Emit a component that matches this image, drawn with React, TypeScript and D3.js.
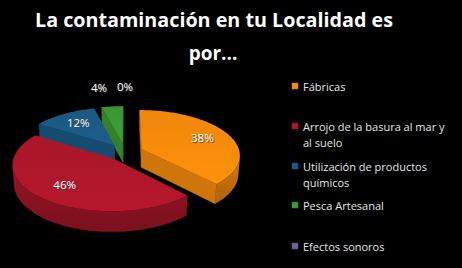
import React from "react";
import * as d3 from "d3";

const categories = [
  "Fábricas",
  "Arrojo de la basura al mar y al suelo",
  "Utilización  de productos químicos",
  "Pesca Artesanal",
  "Efectos sonoros",
];
const legendLines = [
  ["Fábricas"],
  ["Arrojo de la basura al mar y", "al suelo"],
  ["Utilización  de productos", "químicos"],
  ["Pesca Artesanal"],
  ["Efectos sonoros"],
];
const values = [38, 46, 12, 4, 0];
const percentLabels = ["38%", "46%", "12%", "4%", "0%"];
const colors = ["#F98C0B", "#B0172B", "#1C5B87", "#3E9A35", "#7B5E9E"];
const titleLines = ["La contaminación en tu Localidad es", "por..."];

const W = 462;
const H = 268;

export default function App() {
  const cx = 125;
  const cy = 152;
  const R = 98;
  const alpha = (27 * Math.PI) / 180;
  const sinA = Math.sin(alpha);
  const cosA = Math.cos(alpha);
  const D = 700;
  const depth = 21;
  const E = 18;

  const P = (theta: number, r: number, h: number, phi: number): [number, number] => {
    const X = r * Math.sin(theta) + E * Math.sin(phi);
    const Z = r * Math.cos(theta) + E * Math.cos(phi);
    const dv = h * sinA + Z * cosA;
    const s = D / (D + dv);
    return [cx + X * s, cy + (h * cosA - Z * sinA) * s];
  };
  const cam = [0, D * sinA, -D * cosA];
  const visible = (n: number[], p: number[]) =>
    n[0] * (cam[0] - p[0]) + n[1] * (cam[1] - p[1]) + n[2] * (cam[2] - p[2]) > 0;

  const pie = d3
    .pie<number>()
    .sort(null)
    .value((d) => d)
    .startAngle(0)
    .endAngle(2 * Math.PI);
  const arcs = pie(values);
  const line = d3.line();
  const poly = (pts: [number, number][]) => line(pts) + "Z";

  const step = Math.PI / 180;

  const slices = arcs
    .map((a, i) => {
      const phi = (a.startAngle + a.endAngle) / 2;
      const zc = (R / 2) * Math.cos(phi) + E * Math.cos(phi);
      return { a, i, phi, zc };
    })
    .filter((s) => s.a.endAngle - s.a.startAngle > 1e-6)
    .sort((p, q) => q.zc - p.zc);

  const base = (c: string) => d3.color(c)!;

  const elements: React.ReactNode[] = [];
  slices.forEach(({ a, i, phi }) => {
    const s0 = a.startAngle;
    const s1 = a.endAngle;
    const col = colors[i];
    const sideCol = base(col).darker(0.7).formatHex();
    const cutCol = base(col).darker(0.5).formatHex();
    const Ox = E * Math.sin(phi);
    const Oz = E * Math.cos(phi);
    const faces: { th: number; n: number[] }[] = [
      { th: s0, n: [-Math.cos(s0), 0, Math.sin(s0)] },
      { th: s1, n: [Math.cos(s1), 0, -Math.sin(s1)] },
    ];
    faces.forEach((f, k) => {
      const p = [Ox + (R / 2) * Math.sin(f.th), -depth / 2, Oz + (R / 2) * Math.cos(f.th)];
      if (visible(f.n, p)) {
        elements.push(
          <path
            key={`cut-${i}-${k}`}
            d={poly([P(f.th, 0, 0, phi), P(f.th, R, 0, phi), P(f.th, R, depth, phi), P(f.th, 0, depth, phi)])}
            fill={cutCol}
            stroke={cutCol}
            strokeWidth={0.5}
          />
        );
      }
    });
    const n = Math.max(2, Math.ceil((s1 - s0) / step));
    let run: number[] = [];
    const runs: number[][] = [];
    for (let k = 0; k < n; k++) {
      const t0 = s0 + ((s1 - s0) * k) / n;
      const t1 = s0 + ((s1 - s0) * (k + 1)) / n;
      const tm = (t0 + t1) / 2;
      const nrm = [Math.sin(tm), 0, Math.cos(tm)];
      const p = [Ox + R * Math.sin(tm), -depth / 2, Oz + R * Math.cos(tm)];
      if (visible(nrm, p)) {
        if (run.length === 0) run.push(t0);
        run.push(t1);
      } else if (run.length) {
        runs.push(run);
        run = [];
      }
    }
    if (run.length) runs.push(run);
    runs.forEach((rn, k) => {
      const top = rn.map((t) => P(t, R, 0, phi));
      const bot = rn.map((t) => P(t, R, depth, phi)).reverse();
      elements.push(
        <path
          key={`wall-${i}-${k}`}
          d={poly([...top, ...bot])}
          fill={`url(#wall${i})`}
          stroke={sideCol}
          strokeWidth={0.3}
        />
      );
    });
    const tops: [number, number][] = [P(0, 0, 0, phi)];
    for (let k = 0; k <= n; k++) tops.push(P(s0 + ((s1 - s0) * k) / n, R, 0, phi));
    elements.push(<path key={`top-${i}`} d={poly(tops)} fill={`url(#top${i})`} />);
  });

  const labelEls = arcs.map((a, i) => {
    const phi = (a.startAngle + a.endAngle) / 2;
    const inside = values[i] >= 5;
    const rr = inside ? 0.7 * R : 1.6 * R;
    const [x, y] = P(phi, rr, 0, phi);
    let anchor = "middle";
    if (!inside && x < cx - 5) anchor = "end";
    return (
      <text
        key={`lbl-${i}`}
        x={x}
        y={y + 4}
        textAnchor={anchor}
        fontFamily="Open Sans, sans-serif"
        fontSize={11.5}
        fill="#FFFFFF"
        style={{ textShadow: "1px 1px 1px #444" }}
      >
        {percentLabels[i]}
      </text>
    );
  });

  const legendY = [87, 127, 167, 206, 247];

  return (
    <div style={{ position: "absolute", left: 0, top: 0 }}>
      <svg width={W} height={H} style={{ display: "block" }}>
        <defs>
          {colors.map((c, i) => (
            <linearGradient key={`w${i}`} id={`wall${i}`} x1="0" y1="0" x2="0" y2="1">
              <stop offset="0" stopColor={base(c).darker(0.45).formatHex()} />
              <stop offset="1" stopColor={base(c).darker(1.0).formatHex()} />
            </linearGradient>
          ))}
          {colors.map((c, i) => (
            <linearGradient key={`t${i}`} id={`top${i}`} x1="0" y1="0" x2="0" y2="1">
              <stop offset="0" stopColor={base(c).darker(0.1).formatHex()} />
              <stop offset="1" stopColor={base(c).brighter(0.1).formatHex()} />
            </linearGradient>
          ))}
        </defs>
        <rect x={0} y={0} width={W} height={H} fill="#000" />
        <text x={214} y={27} textAnchor="middle" fontFamily="Open Sans, sans-serif" fontWeight="bold" fontSize={19} fill="#FFFFFF" textLength={358} lengthAdjust="spacingAndGlyphs">
          {titleLines[0]}
        </text>
        <text x={213} y={60} textAnchor="middle" fontFamily="Open Sans, sans-serif" fontWeight="bold" fontSize={19} fill="#FFFFFF">
          {titleLines[1]}
        </text>
        {elements}
        {labelEls}
        {categories.map((c, i) => (
          <g key={`leg-${i}`}>
            <rect x={292} y={legendY[i] - 4} width={6} height={6} fill={colors[i]} stroke={base(colors[i]).darker(0.6).formatHex()} strokeWidth={0.5} />
            {legendLines[i].map((ln, k) => (
              <text key={k} x={303} y={legendY[i] + 4 + k * 16} fontFamily="Open Sans, sans-serif" fontSize={11} fill="#E6E6E6">
                {ln}
              </text>
            ))}
          </g>
        ))}
      </svg>
    </div>
  );
}
